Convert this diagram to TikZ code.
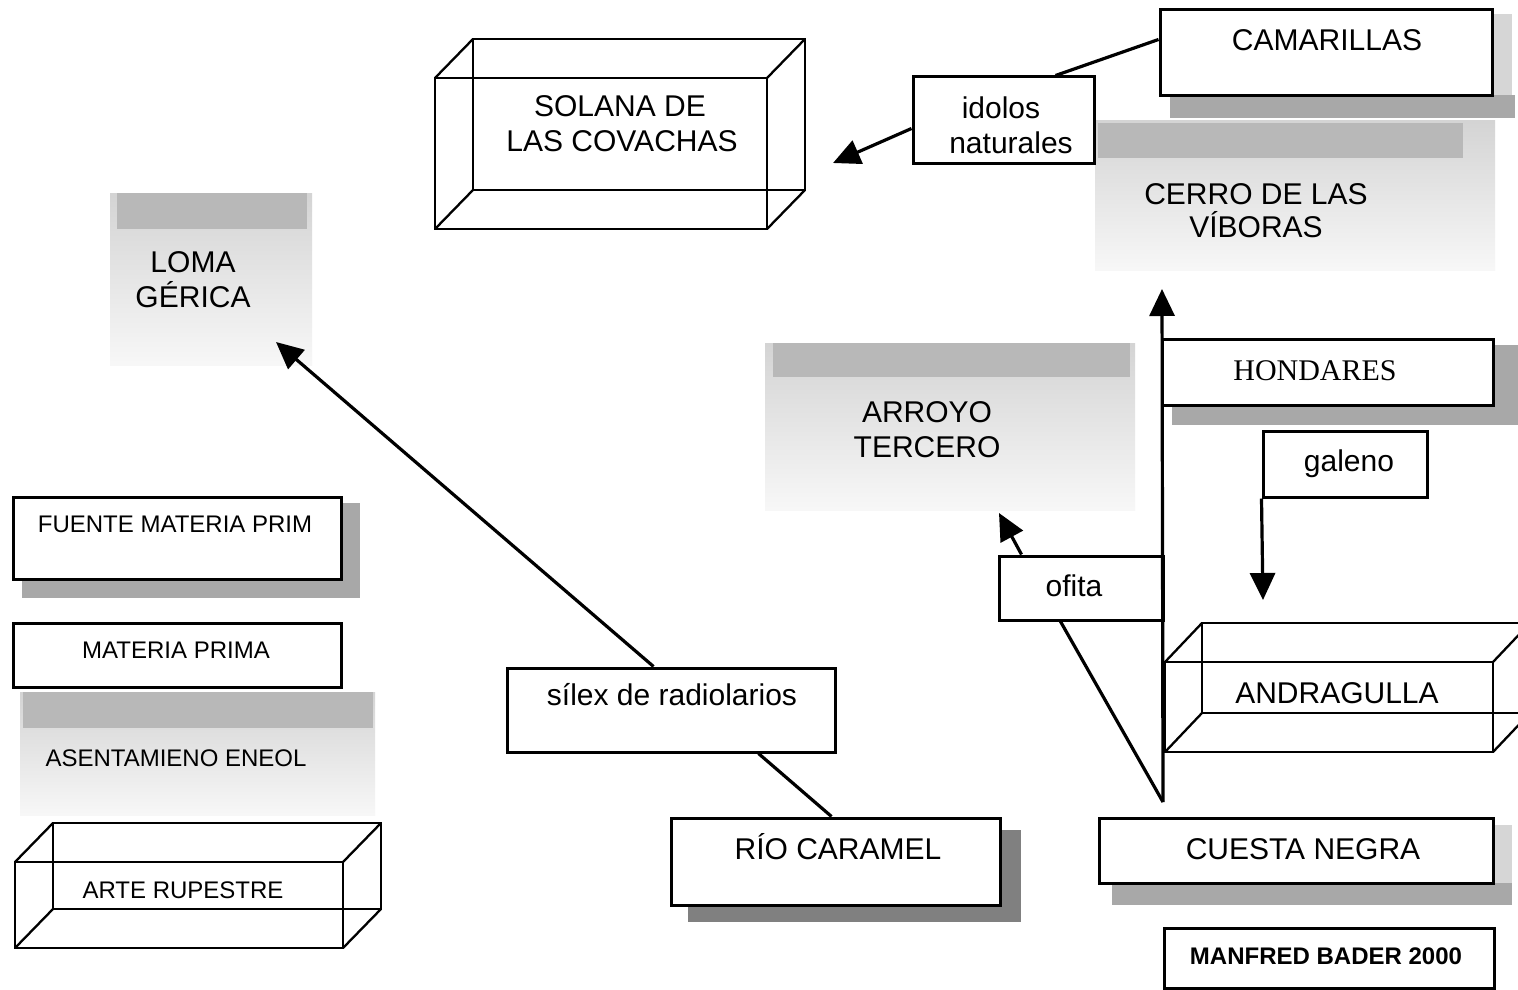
\documentclass[tikz,border=0pt]{standalone}
\usepackage{fontspec}
\setmainfont{Liberation Sans}
\newfontfamily\timesfont{Liberation Serif}
\usetikzlibrary{arrows.meta,calc}
\tikzset{
 box/.style={draw=black, line width=3pt, inner sep=0pt, fill=white},
 lbl/.style={anchor=base, inner sep=0pt, font=\fontsize{30}{36}\selectfont},
 slbl/.style={anchor=base, inner sep=0pt, font=\fontsize{24}{29}\selectfont},
 conn/.style={line width=3.2pt},
 arr/.style={conn, -{Triangle[length=27pt,width=25pt]}},
 cube/.style={line width=2.3pt},
 boxshadow/.style={fill=black!34, draw=none},
 darkshadow/.style={fill=black!50, draw=none},
 lightshadow/.style={fill=black!16, draw=none},
 haze/.style={top color=black!17, bottom color=black!3, draw=none},
 band/.style={fill=black!28, draw=none},
}
\newcommand\cuboid[6]{%
 \draw[cube] (#1,#2) rectangle (#3,#4);
 \draw[cube] (#1+#5,#2-#6) rectangle (#3+#5,#4-#6);
 \draw[cube] (#1,#2)--(#1+#5,#2-#6) (#3,#2)--(#3+#5,#2-#6)
             (#1,#4)--(#1+#5,#4-#6) (#3,#4)--(#3+#5,#4-#6);}
\begin{document}
\begin{tikzpicture}[x=1pt,y=-1pt]
\useasboundingbox (0,0) rectangle (1518,990);
\clip (0,0) rectangle (1518,990);
\fill[white] (0,0) rectangle (1518,990);

% hazy shaded areas
\shade[haze] (110,193) rectangle (312,365);
\fill[band] (117,193) rectangle (307,229);
\shade[haze] (765,343) rectangle (1135,510);
\fill[band] (773,343) rectangle (1130,377);
\shade[haze] (1095,120) rectangle (1495,270);
\fill[band] (1098,123) rectangle (1463,158);
\shade[haze] (20,692) rectangle (375,815);
\fill[band] (23,692) rectangle (373,728);

% box shadows
\fill[lightshadow] (1492,14) rectangle (1512,95);
\fill[boxshadow] (1170,95) rectangle (1515,118);
\fill[boxshadow] (1172,405) rectangle (1518,425);
\fill[boxshadow] (1493,345) rectangle (1518,425);
\fill[boxshadow] (341,503) rectangle (360,598);
\fill[boxshadow] (22,579) rectangle (360,598);
\fill[darkshadow] (1000,830) rectangle (1021,922);
\fill[darkshadow] (688,905) rectangle (1021,922);
\fill[boxshadow] (1112,883) rectangle (1512,905);
\fill[lightshadow] (1493,825) rectangle (1512,883);

% cuboids
\cuboid{435}{78}{767}{229}{38}{39}
\cuboid{15}{862}{343}{948}{38}{39}
\cuboid{1165}{662}{1493}{752}{37}{39}

% boxes
\node[box, minimum width=332pt, minimum height=85pt] (cam) at (1326,52.5) {};
\node[box, minimum width=181pt, minimum height=86pt] (idol) at (1003.5,120) {};
\node[box, minimum width=331pt, minimum height=66pt] (hond) at (1327.5,372) {};
\node[box, minimum width=164pt, minimum height=66pt] (gal) at (1345,464) {};
\node[box, minimum width=164pt, minimum height=64pt] (ofi) at (1081,588) {};
\node[box, minimum width=328pt, minimum height=84pt] (silex) at (671,710) {};
\node[box, minimum width=329pt, minimum height=87pt] (rio) at (835.5,861.5) {};
\node[box, minimum width=394pt, minimum height=65pt] (cuesta) at (1296,850.5) {};
\node[box, minimum width=330pt, minimum height=60pt] (manf) at (1329,958) {};
\node[box, minimum width=328pt, minimum height=82pt] (fuente) at (177,538) {};
\node[box, minimum width=328pt, minimum height=64pt] (mat) at (177,655) {};

% free ends
\coordinate (solT) at (833,163);
\coordinate (lomaT) at (276,342);
\coordinate (cerroT) at (1162,289);
\coordinate (arroT) at (999,513);
\coordinate (andT) at (1263,600);
\coordinate (apex) at (1163,802);

% connectors
\draw[conn] ([yshift=-31pt]cam.north west) -- ([xshift=144pt]idol.north west);
\draw[arr] ([yshift=-53pt]idol.north west) -- (solT);
\draw[arr] ([xshift=148pt]silex.north west) -- (lomaT);
\draw[conn] ([xshift=253pt]silex.south west) -- ([xshift=162pt]rio.north west);
\draw[arr] (apex) -- (cerroT);
\draw[conn] (apex) -- ([xshift=63pt]ofi.south west);
\draw[arr] ([xshift=24pt]ofi.north west) -- (arroT);
\draw[arr] (gal.south west) -- (andT);

% texts
\node[lbl] (t1a) at (620,116) {SOLANA DE};
\node[lbl] (t1b) at (622,151) {LAS COVACHAS};
\node[lbl] (t2) at (1327,51) {CAMARILLAS};
\node[lbl] (t3a) at (1001,118) {idolos};
\node[lbl] (t3b) at (1011,153) {naturales};
\node[lbl] (t4a) at (1256,204) {CERRO DE LAS};
\node[lbl] (t4b) at (1256,237) {VÍBORAS};
\node[lbl] (t5a) at (193,272) {LOMA};
\node[lbl] (t5b) at (193,307) {GÉRICA};
\node[lbl, font=\timesfont\fontsize{30}{36}\selectfont] (t6) at (1315,380) {HONDARES};
\node[lbl] (t7a) at (927,422) {ARROYO};
\node[lbl] (t7b) at (927,457) {TERCERO};
\node[lbl] (t8) at (1349,471) {galeno};
\node[lbl] (t9) at (1074,596) {ofita};
\node[lbl] (t10) at (672,705) {sílex de radiolarios};
\node[lbl] (t11) at (1337,703) {ANDRAGULLA};
\node[lbl] (t12) at (838,859) {RÍO CARAMEL};
\node[lbl] (t13) at (1303,859) {CUESTA NEGRA};
\node[slbl, font=\bfseries\fontsize{24}{29}\selectfont] (t14) at (1326,964) {MANFRED BADER 2000};
\node[slbl] (t15) at (175,532) {FUENTE MATERIA PRIM};
\node[slbl] (t16) at (176,658) {MATERIA PRIMA};
\node[slbl] (t17) at (176,766) {ASENTAMIENO ENEOL};
\node[slbl] (t18) at (183,898) {ARTE RUPESTRE};
\end{tikzpicture}
\end{document}
